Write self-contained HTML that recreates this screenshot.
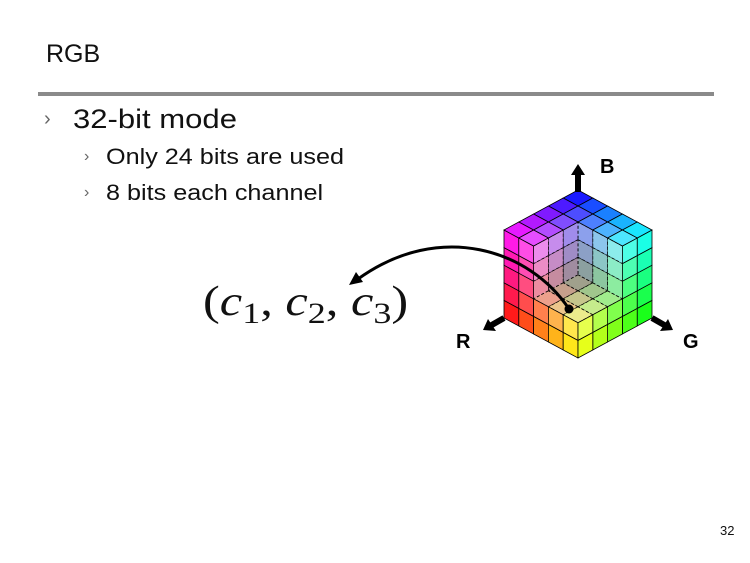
<!DOCTYPE html>
<html><head><meta charset="utf-8"><style>
html,body{margin:0;padding:0;background:#fff}
body{width:750px;height:563px;position:relative;overflow:hidden;font-family:"Liberation Sans",sans-serif;color:#111}
.t{position:absolute;white-space:nowrap;transform-origin:0 0}
</style></head><body>
<div class="t" style="left:46px;top:40px;font-size:25px">RGB</div>
<div style="position:absolute;left:38px;top:92px;width:676px;height:4px;background:#8a8a8a"></div>
<div class="t" style="left:44px;top:108px;font-size:20px;color:#666">›</div>
<div class="t" style="left:73px;top:104px;font-size:27px;transform:scaleX(1.15)">32-bit mode</div>
<div class="t" style="left:84px;top:148px;font-size:16px;color:#666">›</div>
<div class="t" style="left:106px;top:144px;font-size:22px;transform:scaleX(1.145)">Only 24 bits are used</div>
<div class="t" style="left:84px;top:184px;font-size:16px;color:#666">›</div>
<div class="t" style="left:106px;top:180px;font-size:22px;transform:scaleX(1.145)">8 bits each channel</div>
<div class="t" style="left:203px;top:278px;font-size:42px;font-family:'Liberation Serif',serif;transform:scaleX(1.2)">(<i>c</i><span style="font-size:30px;position:relative;top:8px">1</span>, <i>c</i><span style="font-size:30px;position:relative;top:8px">2</span>, <i>c</i><span style="font-size:30px;position:relative;top:8px">3</span>)</div>
<div class="t" style="left:720px;top:523px;font-size:13px">32</div>
<svg id="s" width="750" height="563" style="position:absolute;left:0;top:0">
<g id="cube"></g>
<g stroke="#000" stroke-width="6" fill="none">
<line x1="578" y1="192" x2="578" y2="172"/>
<line x1="504" y1="318" x2="490" y2="326"/>
<line x1="652" y1="318" x2="666" y2="326"/>
</g>
<polygon points="578,164 571,175 585,175" fill="#000"/>
<polygon points="483,330 488,319 496,331" fill="#000"/>
<polygon points="673,330 660,331 668,319" fill="#000"/>
<text x="600" y="173" font-size="20" font-weight="bold" font-family="Liberation Sans">B</text>
<text x="456" y="348" font-size="20" font-weight="bold" font-family="Liberation Sans">R</text>
<text x="683" y="348" font-size="20" font-weight="bold" font-family="Liberation Sans">G</text>
<path d="M569,309 C530,250 440,220 358,279" stroke="#000" stroke-width="3" fill="none"/>
<polygon points="349,285 356,272 363,282" fill="#000"/>
<circle cx="569" cy="309" r="4.5" fill="#000"/>
</svg>
<script>
(function(){
var g=document.getElementById('cube'),N=5,C=0.4;
function P(r,gg,b){return [578-74*r+74*gg,278+40*r+40*gg-88*b];}
function col(r,gg,b){return 'rgb('+Math.round(r*255)+','+Math.round(gg*255)+','+Math.round(b*255)+')';}
function quad(a,b,c,d,fill,dash,op){
 var p=document.createElementNS('http://www.w3.org/2000/svg','polygon');
 p.setAttribute('points',[a,b,c,d].map(function(q){return q[0].toFixed(1)+','+q[1].toFixed(1)}).join(' '));
 p.setAttribute('fill',fill);p.setAttribute('stroke','#000');p.setAttribute('stroke-width','0.8');
 if(dash)p.setAttribute('stroke-dasharray','3,2');
 if(op)p.setAttribute('fill-opacity',op);
 g.appendChild(p);}
var s=1/N;
for(var i=2;i<N;i++)for(var j=2;j<N;j++){
 var u0=i*s,u1=(i+1)*s,v0=j*s,v1=(j+1)*s,um=(u0+u1)/2,vm=(v0+v1)/2;
 quad(P(C,u0,v0),P(C,u1,v0),P(C,u1,v1),P(C,u0,v1),col(C,um,vm),1,0.75);
 quad(P(u0,C,v0),P(u1,C,v0),P(u1,C,v1),P(u0,C,v1),col(um,C,vm),1,0.75);
 quad(P(u0,v0,C),P(u1,v0,C),P(u1,v1,C),P(u0,v1,C),col(um,vm,C),1,0.75);
}
for(var i=0;i<N;i++)for(var j=0;j<N;j++){
 var u0=i*s,u1=(i+1)*s,v0=j*s,v1=(j+1)*s,um=(u0+u1)/2,vm=(v0+v1)/2;
 if(i>=2&&j>=2)continue;
 quad(P(1,u0,v0),P(1,u1,v0),P(1,u1,v1),P(1,u0,v1),col(1,um,vm));
 quad(P(u0,1,v0),P(u1,1,v0),P(u1,1,v1),P(u0,1,v1),col(um,1,vm));
 quad(P(u0,v0,1),P(u1,v0,1),P(u1,v1,1),P(u0,v1,1),col(um,vm,1));
}
})();
</script>
</body></html>
